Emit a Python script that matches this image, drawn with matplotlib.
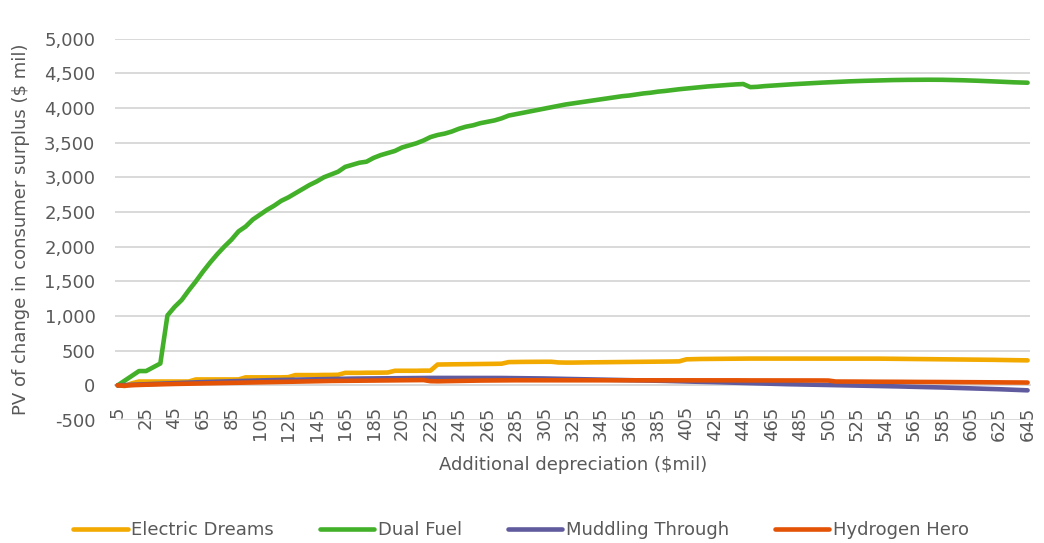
import numpy as np
import matplotlib.pyplot as plt
from matplotlib.ticker import FuncFormatter

# additional depreciation, $mil (5 to 645 in steps of 5)
depreciation = np.arange(5, 650, 5)

electric_dreams = [
    0, -10, 30, 55, 55, 55, 55, 55, 55, 55,
    55, 85, 85, 85, 85, 85, 85, 85, 115, 115,
    115, 115, 115, 115, 118, 148, 148, 148, 148, 150,
    150, 152, 180, 180, 180, 182, 182, 183, 185, 210,
    210, 210, 210, 212, 212, 300, 302, 303, 304, 305,
    306, 307, 308, 310, 312, 335, 337, 338, 339, 340,
    340, 340, 330, 328, 328, 330, 331, 332, 333, 334,
    335, 336, 337, 338, 339, 340, 342, 343, 344, 346,
    375, 378, 380, 381, 382, 383, 384, 385, 386, 386,
    386, 387, 387, 387, 387, 387, 387, 387, 387, 387,
    387, 387, 387, 386, 386, 386, 385, 385, 384, 384,
    383, 382, 381, 380, 379, 378, 377, 376, 375, 374,
    372, 371, 369, 368, 366, 365, 363, 362, 360,
]

dual_fuel = [
    0, 69, 137, 206, 206, 260, 315, 1008, 1130, 1230,
    1370, 1500, 1640, 1770, 1890, 2000, 2100, 2220, 2290, 2390,
    2460, 2530, 2590, 2660, 2710, 2770, 2830, 2890, 2940, 3000,
    3040, 3080, 3150, 3180, 3210, 3225, 3280, 3320, 3350, 3380,
    3430, 3460, 3490, 3530, 3580, 3610, 3630, 3660, 3700, 3730,
    3750, 3780, 3800, 3820, 3850, 3890, 3910, 3930, 3950, 3970,
    3990, 4010, 4030, 4050, 4065, 4080, 4095, 4110, 4125, 4140,
    4155, 4170, 4180, 4195, 4210, 4220, 4235, 4245, 4258, 4270,
    4280, 4290, 4300, 4310, 4318, 4325, 4333, 4340, 4345, 4300,
    4305, 4315, 4322, 4330, 4336, 4342, 4348, 4354, 4360, 4365,
    4370, 4375, 4380, 4384, 4388, 4391, 4394, 4397, 4400, 4402,
    4404, 4405, 4406, 4407, 4407, 4407, 4406, 4404, 4402, 4399,
    4396, 4392, 4388, 4384, 4380, 4375, 4370, 4367, 4364,
]

muddling_through = [
    0, 4, 8, 12, 16, 20, 24, 28, 32, 36,
    40, 44, 47, 50, 53, 56, 59, 62, 65, 68,
    71, 74, 76, 78, 80, 82, 84, 86, 88, 90,
    92, 94, 96, 97, 98, 99, 100, 101, 102, 103,
    104, 105, 106, 106, 107, 107, 108, 108, 108, 108,
    108, 108, 107, 107, 106, 105, 104, 103, 102, 101,
    99, 97, 95, 93, 91, 89, 87, 85, 83, 81,
    79, 77, 75, 73, 71, 69, 67, 64, 61, 58,
    56, 53, 51, 49, 46, 43, 40, 37, 34, 31,
    28, 25, 22, 20, 17, 15, 13, 11, 9, 7,
    5, 3, 1, -1, -3, -5, -7, -10, -12, -14,
    -16, -19, -21, -24, -26, -29, -31, -34, -37, -40,
    -43, -46, -49, -52, -56, -60, -64, -68, -72,
]

hydrogen_hero = [
    0, -5, 2, 6, 9, 12, 15, 18, 20, 22,
    24, 26, 28, 30, 32, 34, 36, 38, 40, 42,
    44, 46, 48, 50, 52, 54, 56, 58, 60, 62,
    63, 64, 65, 66, 67, 68, 69, 70, 71, 72,
    73, 74, 75, 76, 60, 58, 60, 62, 64, 66,
    68, 69, 70, 71, 72, 72, 73, 73, 74, 74,
    74, 74, 74, 74, 74, 74, 74, 74, 74, 74,
    74, 74, 74, 74, 74, 74, 74, 74, 74, 74,
    73, 73, 73, 72, 72, 72, 72, 72, 71, 71,
    71, 71, 70, 70, 70, 70, 70, 70, 70, 70,
    69, 55, 55, 54, 54, 53, 53, 52, 52, 51,
    51, 50, 50, 49, 49, 48, 48, 47, 47, 46,
    46, 45, 44, 44, 43, 42, 42, 41, 40,
]

series = [
    ("Electric Dreams", electric_dreams, "#F2A900"),
    ("Dual Fuel", dual_fuel, "#43B02A"),
    ("Muddling Through", muddling_through, "#5F5B9E"),
    ("Hydrogen Hero", hydrogen_hero, "#E35205"),
]

text_col = "#595959"
grid_col = "#D9D9D9"
fs = 13
plt.rcParams['font.family'] = ['DejaVu Sans']

fig = plt.figure(figsize=(10.44, 5.43), dpi=100)
ax = fig.add_axes([0.110, 0.2265, 0.877, 0.7024])

for name, vals, col in series:
    ax.plot(depreciation, vals, color=col, lw=3.3, label=name,
            solid_capstyle='round', solid_joinstyle='round', zorder=3)

# category axis sits on the zero line (resets ticks, so do it first)
for s in ['top', 'right', 'left']:
    ax.spines[s].set_visible(False)
ax.spines['bottom'].set_position(('data', 0))
ax.spines['bottom'].set_color(grid_col)
ax.spines['bottom'].set_linewidth(1.4)

ax.set_xlim(3, 647)
ax.set_ylim(-500, 5000)
ax.set_yticks(np.arange(-500, 5001, 500))
ax.yaxis.set_major_formatter(FuncFormatter(lambda v, p: f"{int(v):,}"))
ax.set_xticks(depreciation[::4])
ax.set_xticklabels([str(v) for v in depreciation[::4]])

ax.grid(axis='y', color=grid_col, lw=1.4, zorder=0)
ax.set_axisbelow(True)
ax.tick_params(axis='x', length=0, pad=15, labelsize=fs, labelcolor=text_col,
               labelrotation=90)
ax.tick_params(axis='y', length=0, pad=14, labelsize=fs, labelcolor=text_col)

ax.set_ylabel("PV of change in consumer surplus ($ mil)", fontsize=fs,
              color=text_col)
ax.yaxis.set_label_coords(-0.093, 0.5)
fig.text(573 / 1044, 1 - 465 / 543, "Additional depreciation ($mil)",
         fontsize=fs, color=text_col, ha='center', va='center')

fig.legend(loc='center', bbox_to_anchor=(521 / 1044, 1 - 530 / 543), ncol=4,
           frameon=False, fontsize=fs, labelcolor=text_col, handlelength=3.0,
           handletextpad=0.2, columnspacing=2.55)

fig.savefig("out.png", dpi=100)
